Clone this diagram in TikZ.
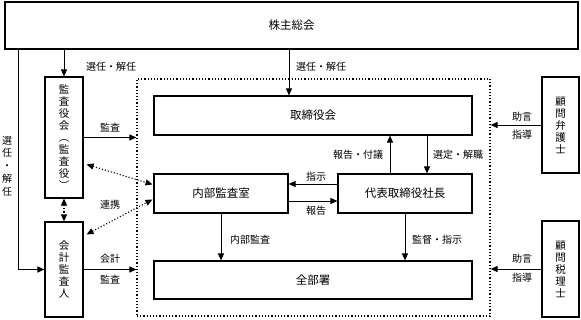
\documentclass[tikz,border=0pt]{standalone}
\usepackage{fontspec}
\setmainfont{Noto Sans CJK JP}
\usetikzlibrary{arrows.meta,calc}
\begin{document}
\begin{tikzpicture}[x=1pt,y=-1pt,
  box/.style={draw, line width=1.1pt, inner sep=0pt, font=\fontsize{11.5}{13}\selectfont},
  vbox/.style={box, align=center, font=\fontsize{10.5}{12}\selectfont},
  lab/.style={font=\fontsize{10}{12}\selectfont, inner sep=0pt},
  vlab/.style={lab, align=center, font=\fontsize{10}{12.8}\selectfont},
  arr/.style={line width=1pt, -{Triangle[length=7pt,width=6pt]}},
  darr/.style={line width=1.1pt, dotted, {Triangle[length=7pt,width=6pt]}-{Triangle[length=7pt,width=6pt]}}
]
\useasboundingbox (0,0) rectangle (581,319);
% boxes
\node[box, minimum width=573pt, minimum height=47pt] (sh) at (291.5,25.5) {株主総会};
\node[draw, line width=1.2pt, dotted, minimum width=353pt, minimum height=237pt, inner sep=0pt] (reg) at (313.5,197.5) {};
\node[vbox, minimum width=38pt, minimum height=121pt] (kansa) at (64,137.5) {監\\査\\役\\会\\︵\\監\\査\\役\\︶};
\node[vbox, minimum width=38pt, minimum height=95pt] (kaikei) at (64,269.5) {会\\計\\監\\査\\人};
\node[box, minimum width=318pt, minimum height=39pt] (tori) at (313,115.5) {取締役会};
\node[box, minimum width=134pt, minimum height=39pt] (naibu) at (221,193.5) {内部監査室};
\node[box, minimum width=134pt, minimum height=39pt] (daihyo) at (405,193.5) {代表取締役社長};
\node[box, minimum width=318pt, minimum height=38pt] (zenbu) at (313,280) {全部署};
\node[vbox, minimum width=37pt, minimum height=96pt] (bengo) at (560.5,125) {顧\\問\\弁\\護\\士};
\node[vbox, minimum width=37pt, minimum height=96pt] (zeiri) at (560.5,269) {顧\\問\\税\\理\\士};
% helper coordinates
\coordinate (c1) at (289,0);
\coordinate (c2) at (18,0);
\coordinate (y1) at (0,184);
\coordinate (y2) at (0,201);
\coordinate (x1) at (390,0);
\coordinate (x2) at (427,0);
% arrows
\draw[arr] (sh.south -| kansa) -- (kansa.north);
\draw[arr] (sh.south -| c1) -- (tori.north -| c1);
\draw[arr] (sh.south -| c2) |- (kaikei.west);
\draw[arr] (kansa.east) -- (kansa.east -| reg.west);
\draw[arr] (kaikei.east) -- (kaikei.east -| reg.west);
\draw[arr] (bengo.west) -- (bengo.west -| reg.east);
\draw[arr] (zeiri.west) -- (zeiri.west -| reg.east);
\draw[darr] ($(kansa.north east)+(3,88)$) -- ($(naibu.north west)+(-1,11)$);
\draw[darr] ($(kaikei.north east)+(3,13)$) -- ($(naibu.north west)+(-1,26)$);
\draw[darr] (kansa.south) -- (kaikei.north);
\draw[arr] (naibu.south) -- (naibu.south |- zenbu.north);
\draw[arr] (daihyo.south) -- (daihyo.south |- zenbu.north);
\draw[arr] (daihyo.west |- y1) -- (naibu.east |- y1);
\draw[arr] (naibu.east |- y2) -- (daihyo.west |- y2);
\draw[arr] (daihyo.north -| x1) -- (tori.south -| x1);
\draw[arr] (tori.south -| x2) -- (daihyo.north -| x2);
% labels
\node[lab] (l1) at (111,67) {選任・解任};
\node[lab] (l2) at (321,67) {選任・解任};
\node[vlab] (l3) at (7,166) {選\\任\\・\\解\\任};
\node[lab] (l4) at (110,128) {監査};
\node[lab] (l5) at (110,205) {連携};
\node[lab] (l6) at (110,259) {会計};
\node[lab] (l7) at (110,280) {監査};
\node[lab] (l8) at (250,240) {内部監査};
\node[lab] (l9) at (437,240) {監督・指示};
\node[lab] (l10) at (316,177) {指示};
\node[lab] (l11) at (316,211) {報告};
\node[lab] (l12) at (358,155) {報告・付議};
\node[lab] (l13) at (458,155) {選定・解職};
\node[lab] (l14) at (522,117) {助言};
\node[lab] (l15) at (522,135) {指導};
\node[lab] (l16) at (522,259) {助言};
\node[lab] (l17) at (522,278) {指導};
\end{tikzpicture}
\end{document}
